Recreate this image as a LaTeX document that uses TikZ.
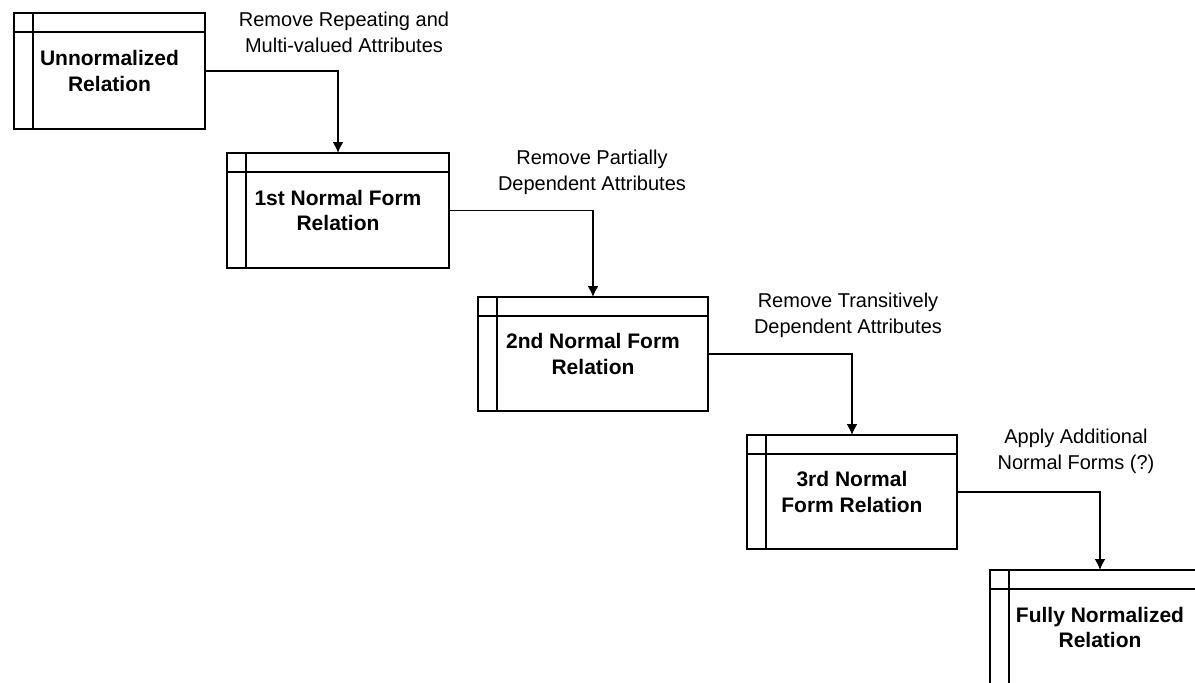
\documentclass[tikz,border=0pt]{standalone}
\usepackage{fontspec}
\setmainfont{Liberation Sans}
\usetikzlibrary{arrows.meta}
\begin{document}
\begin{tikzpicture}[
    x=0.5pt,y=-0.5pt,
    relation/.style={rectangle,draw=black,line width=0.9pt,fill=white,
        inner sep=0pt,outer sep=0pt,align=center,
        font=\bfseries\fontsize{10.5}{12.8}\selectfont,
        path picture={
            \draw[line width=0.9pt] ([yshift=-9.5pt]path picture bounding box.north west) -- ([yshift=-9.5pt]path picture bounding box.north east);
            \draw[line width=0.9pt] ([xshift=9.5pt]path picture bounding box.north west) -- ([xshift=9.5pt]path picture bounding box.south west);
        }},
    action/.style={align=center,inner sep=0pt,font=\fontsize{10}{13}\selectfont},
    reduce/.style={-{Latex[length=5.5pt,width=5.5pt]},line width=0.9pt}
]
    \useasboundingbox (0,0) rectangle (1195,682);
    \clip (0,0) rectangle (1195,682);

    % relations
    \node[relation,minimum width=95.5pt,minimum height=58pt] (unf) at (109.5,71) {Unnormalized\\Relation};
    \node[relation,minimum width=111pt,minimum height=57.5pt] (nf1) at (338,210.5) {1st Normal Form\\Relation};
    \node[relation,minimum width=115pt,minimum height=57pt] (nf2) at (593,354) {2nd Normal Form\\Relation};
    \node[relation,minimum width=105pt,minimum height=57pt] (nf3) at (852,492) {3rd Normal\\Form Relation};
    \node[relation,minimum width=110pt,minimum height=57.5pt] (fnf) at (1100,627.5) {Fully Normalized\\Relation};

    % steps
    \node[action] (rm1) at (344,32) {Remove Repeating and\\Multi-valued Attributes};
    \node[action] (rm2) at (592,172) {Remove Partially\\Dependent Attributes};
    \node[action] (rm3) at (848,315) {Remove Transitively\\Dependent Attributes};
    \node[action] (rm4) at (1076,451) {Apply Additional\\Normal Forms (?)};

    \draw[reduce] (unf.east) -| (nf1.north);
    \draw[reduce] (nf1.east) -| (nf2.north);
    \draw[reduce] (nf2.east) -| (nf3.north);
    \draw[reduce] (nf3.east) -| (fnf.north);
\end{tikzpicture}
\end{document}
